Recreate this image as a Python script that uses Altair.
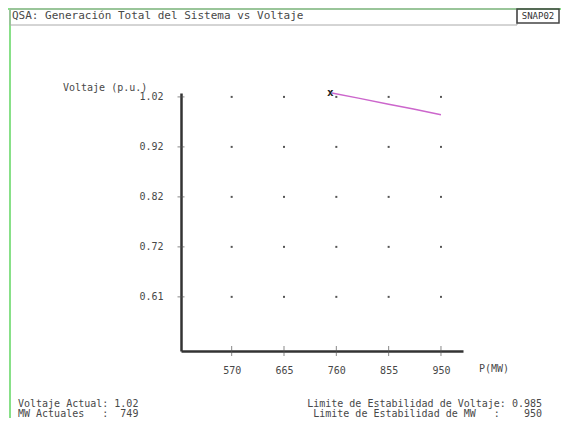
import altair as alt
import pandas as pd

# ---- data ----
mw_ticks = [570, 665, 760, 855, 950]
v_ticks = [1.025, 0.9225, 0.82, 0.7175, 0.615]          # shown as 1.02 ... 0.61
curve_mw = [752, 800, 855, 900, 950]
curve_v = [1.033, 1.0225, 1.010, 1.000, 0.9885]
current_mw = [749]
current_v = [1.033]

NB = "\u00a0"
title_text = "QSA: Generación Total del Sistema vs Voltaje"
snap_text = "SNAP02"
y_title = "Voltaje (p.u.)"
x_title = "P(MW)"
foot_left = ["Voltaje Actual: 1.02", "MW Actuales" + NB * 3 + ":" + NB * 2 + "749"]
foot_right = ["Limite de Estabilidad de Voltaje: 0.985",
              "Limite de Estabilidad de MW" + NB * 3 + ":" + NB * 4 + "950"]

X_DOM = [478, 990]
Y_DOM = [0.504, 1.033]
MONO = "DejaVu Sans Mono"
TXT = "#484848"
AX = "#333333"

xs = alt.Scale(domain=X_DOM, nice=False, zero=False)
ys = alt.Scale(domain=Y_DOM, nice=False, zero=False)

x_axis = alt.Axis(values=mw_ticks, ticks=False, tickSize=0, grid=False, title=None,
                  domainColor=AX, domainWidth=2.5, labelFont=MONO, labelFontSize=10,
                  labelColor=TXT, labelPadding=14, labelFlush=False, format="d")
y_axis = alt.Axis(values=v_ticks, ticks=False, tickSize=0, grid=False, title=None,
                  domainColor=AX, domainWidth=2.5, labelFont=MONO, labelFontSize=10,
                  labelColor=TXT, labelPadding=18, format=".2f")

def X(field):
    return alt.X(field, type="quantitative", scale=xs, axis=x_axis)

def Y(field):
    return alt.Y(field, type="quantitative", scale=ys, axis=y_axis)

grid_df = pd.DataFrame([(m, v) for m in mw_ticks for v in v_ticks], columns=["mw", "v"])
dots = alt.Chart(grid_df).mark_point(filled=True, shape="square", size=4, color="#555555",
                                     opacity=1).encode(x=X("mw"), y=Y("v"))

xt_df = pd.DataFrame({"mw": mw_ticks, "v": [Y_DOM[0]] * len(mw_ticks)})
xticks = alt.Chart(xt_df).mark_tick(orient="vertical", size=10, thickness=1,
                                    color="#555555").encode(x=X("mw"), y=Y("v"))
yt_df = pd.DataFrame({"mw": [X_DOM[0]] * len(v_ticks), "v": v_ticks})
yticks = alt.Chart(yt_df).mark_tick(orient="horizontal", size=7, thickness=1,
                                    color="#555555").encode(x=X("mw"), y=Y("v"))

curve = alt.Chart(pd.DataFrame({"mw": curve_mw, "v": curve_v})).mark_line(
    color="#cc66cc", strokeWidth=1.5).encode(x=X("mw"), y=Y("v"))

marker = alt.Chart(pd.DataFrame({"mw": current_mw, "v": current_v})).mark_text(
    text="x", font=MONO, fontSize=11, fontWeight="bold", color="#222222").encode(
    x=X("mw"), y=Y("v"))

one = pd.DataFrame({"k": [0]})

def label(text, x, y, align="left", size=10, color=TXT):
    return alt.Chart(one).mark_text(text=text, font=MONO, fontSize=size, color=color,
                                    align=align, baseline="middle").encode(
        x=alt.value(x), y=alt.value(y))

def rule(x, x2, y, y2, color, width):
    return alt.Chart(one).mark_rule(color=color, strokeWidth=width).encode(
        x=alt.value(x), x2=alt.value(x2), y=alt.value(y), y2=alt.value(y2))

def box(x, x2, y, y2, color, width):
    return alt.Chart(one).mark_rect(fillOpacity=0, stroke=color, strokeWidth=width).encode(
        x=alt.value(x), x2=alt.value(x2), y=alt.value(y), y2=alt.value(y2))

deco = [
    rule(-173, 380, -84, -84, "#88e088", 2),
    rule(-171, -171, -85, 325, "#88e088", 2),
    box(-171, 336, -84, -68, "#aaaaaa", 1),
    box(336, 378, -84, -70, "#444444", 1.5),
    label(snap_text, 357, -77, align="center", size=9, color="#333333"),
    label(title_text, -169, -77, size=11),
    label(y_title, -118, -5),
    label(x_title, 298, 276),
    label(foot_left[0], -163, 311),
    label(foot_left[1], -163, 321),
    label(foot_right[0], 361, 311, align="right"),
    label(foot_right[1], 361, 321, align="right"),
]

chart = alt.layer(dots, xticks, yticks, curve, marker, *deco).properties(
    width=282, height=258,
    autosize=alt.AutoSizeParams(type="none"),
    padding={"left": 173, "top": 85, "right": 98, "bottom": 67},
    background="white",
).configure_view(stroke=None)

chart.save("out.html", embed_options={"renderer": "svg", "actions": False})
